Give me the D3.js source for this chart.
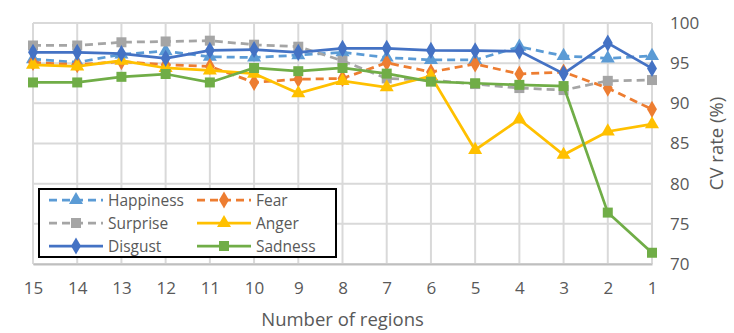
<!DOCTYPE html>
<html>
<head>
<meta charset="utf-8">
<script src="https://cdn.jsdelivr.net/npm/d3@7"></script>
<style>
  body { margin: 0; background: #fff; }
  svg { font-family: "Open Sans", "Liberation Sans", sans-serif; }
  .tick text { fill: #595959; font-size: 17px; }
  .axis-label { fill: #595959; font-size: 18.5px; }
  .legend-text { fill: #595959; font-size: 15.5px; }
</style>
</head>
<body>
<svg width="734" height="333"></svg>
<script>
const regions = [15, 14, 13, 12, 11, 10, 9, 8, 7, 6, 5, 4, 3, 2, 1];
const yTicks = [70, 75, 80, 85, 90, 95, 100];

const happiness = [95.5, 95.1, 96.1, 96.5, 95.8, 95.7, 96.0, 96.35, 95.7, 95.4, 95.4, 97.05, 95.9, 95.6, 95.9];
const fear      = [95.1, 94.8, 95.2, 94.8, 94.6, 92.6, 93.0, 93.1, 95.05, 93.9, 94.9, 93.65, 93.9, 91.9, 89.25];
const surprise  = [97.2, 97.2, 97.6, 97.7, 97.8, 97.3, 97.05, 95.3, 93.1, 92.9, 92.4, 91.9, 91.65, 92.8, 92.9];
const anger     = [94.8, 94.6, 95.3, 94.4, 94.1, 93.7, 91.25, 92.8, 92.0, 93.4, 84.2, 88.0, 83.6, 86.5, 87.4];
const disgust   = [96.35, 96.35, 96.2, 95.6, 96.6, 96.7, 96.35, 96.85, 96.85, 96.6, 96.55, 96.5, 93.7, 97.5, 94.35];
const sadness   = [92.6, 92.6, 93.3, 93.65, 92.6, 94.4, 94.0, 94.4, 93.7, 92.7, 92.5, 92.3, 92.15, 76.4, 71.4];

const seriesNames = ['Happiness', 'Fear', 'Surprise', 'Anger', 'Disgust', 'Sadness'];
const seriesValues = [happiness, fear, surprise, anger, disgust, sadness];
const seriesColors = ['#5B9BD5', '#ED7D31', '#A5A5A5', '#FFC000', '#4472C4', '#70AD47'];
const seriesDashed = [true, true, true, false, false, false];
const seriesSymbols = [d3.symbolTriangle, d3.symbolDiamond, d3.symbolSquare, d3.symbolTriangle, d3.symbolDiamond, d3.symbolSquare];

const svg = d3.select('svg');
const width = +svg.attr('width');
const height = +svg.attr('height');

const margin = {top: 23, right: 82, bottom: 69, left: 33};
const innerWidth = width - margin.left - margin.right;
const innerHeight = height - margin.top - margin.bottom;

const xScale = d3.scaleLinear()
	.domain([15, 1])
	.range([0, innerWidth]);

const yScale = d3.scaleLinear()
	.domain([70, 100])
	.range([innerHeight, 0]);

const g = svg.append('g')
	.attr('transform', `translate(${margin.left}, ${margin.top})`);

// grid
g.append('g').selectAll('line.h')
	.data(yTicks).join('line')
	.attr('x1', 0).attr('x2', innerWidth)
	.attr('y1', d => yScale(d)).attr('y2', d => yScale(d))
	.attr('stroke', '#d9d9d9').attr('stroke-width', 2);

g.append('g').selectAll('line.v')
	.data(regions).join('line')
	.attr('x1', d => xScale(d)).attr('x2', d => xScale(d))
	.attr('y1', 0).attr('y2', innerHeight)
	.attr('stroke', '#d9d9d9').attr('stroke-width', 2);

const xAxisG = g.append('g')
	.attr('transform', `translate(0, ${innerHeight})`)
	.call(d3.axisBottom(xScale).tickValues(regions).tickFormat(d3.format('d')).tickSize(0).tickPadding(18))
	.attr('font-size', null)
	.attr('font-family', null);
xAxisG.select('.domain').attr('stroke', '#bfbfbf').attr('stroke-width', 2);

xAxisG.append('text')
	.attr('class', 'axis-label')
	.attr('x', innerWidth / 2)
	.attr('y', 62)
	.attr('text-anchor', 'middle')
	.text('Number of regions');

const yAxisG = g.append('g')
	.attr('transform', `translate(${innerWidth}, 0)`)
	.call(d3.axisRight(yScale).tickValues(yTicks).tickSize(0).tickPadding(18))
	.attr('font-size', null)
	.attr('font-family', null);
yAxisG.select('.domain').remove();

yAxisG.append('text')
	.attr('class', 'axis-label')
	.attr('transform', `rotate(-90)`)
	.attr('x', -innerHeight / 2)
	.attr('y', 71)
	.attr('text-anchor', 'middle')
	.text('CV rate (%)');

const lineGen = d3.line()
	.x((d, i) => xScale(regions[i]))
	.y(d => yScale(d));

const symbolSize = s => s === d3.symbolSquare ? 100 : 85;

seriesNames.forEach((name, k) => {
	const sg = g.append('g');
	sg.append('path')
		.attr('d', lineGen(seriesValues[k]))
		.attr('fill', 'none')
		.attr('stroke', seriesColors[k])
		.attr('stroke-width', 2.75)
		.attr('stroke-dasharray', seriesDashed[k] ? '8,5' : null);
	sg.selectAll('path.m')
		.data(seriesValues[k]).join('path')
		.attr('transform', (d, i) => `translate(${xScale(regions[i])}, ${yScale(d)})`)
		.attr('d', d3.symbol().type(seriesSymbols[k]).size(symbolSize(seriesSymbols[k])))
		.attr('fill', seriesColors[k]);
});

// legend
const legend = svg.append('g').attr('transform', 'translate(39, 189)');
legend.append('rect')
	.attr('width', 297).attr('height', 68)
	.attr('fill', '#fff').attr('stroke', '#000').attr('stroke-width', 2);

seriesNames.forEach((name, k) => {
	const col = k % 2, row = Math.floor(k / 2);
	const lg = legend.append('g')
		.attr('transform', `translate(${10 + col * 148}, ${11 + row * 23})`);
	lg.append('line')
		.attr('x1', 0).attr('x2', 54)
		.attr('stroke', seriesColors[k]).attr('stroke-width', 2.75)
		.attr('stroke-dasharray', seriesDashed[k] ? '8,5' : null);
	lg.append('path')
		.attr('transform', 'translate(27, 0)')
		.attr('d', d3.symbol().type(seriesSymbols[k]).size(symbolSize(seriesSymbols[k])))
		.attr('fill', seriesColors[k]);
	lg.append('text')
		.attr('class', 'legend-text')
		.attr('x', 59).attr('y', 5.5)
		.text(name);
});
</script>
</body>
</html>
